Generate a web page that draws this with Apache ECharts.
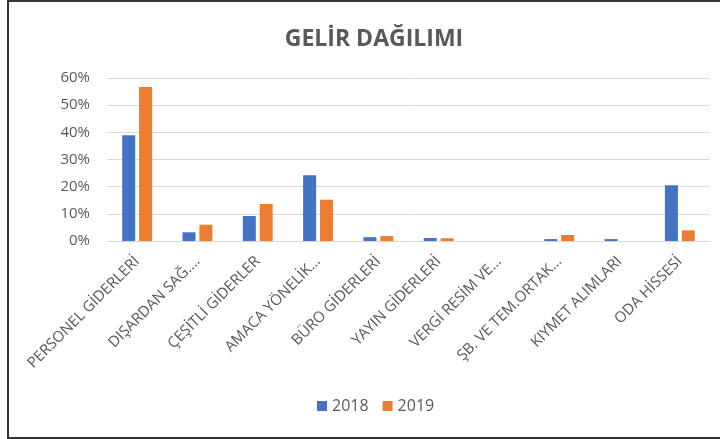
<!DOCTYPE html>
<html>
<head>
<meta charset="utf-8">
<script src="https://cdn.jsdelivr.net/npm/echarts@6/dist/echarts.min.js"></script>
<style>
  html, body { margin: 0; padding: 0; background: #fff; }
  #chart { position: absolute; left: 0; top: 0; width: 720px; height: 439px; }
  #frame { position: absolute; left: 7px; top: 0; width: 730px; height: 435px;
           border: 2px solid #333; pointer-events: none; }
</style>
</head>
<body>
<div id="chart"></div>
<div id="frame"></div>
<script>
// Gider kalemleri (kırpılmış etiketler Excel'deki gibi)
const categories = [
    'PERSONEL GİDERLERİ',
    'DIŞARDAN SAĞ.…',
    'ÇEŞİTLİ GİDERLER',
    'AMACA YÖNELİK…',
    'BÜRO GİDERLERİ',
    'YAYIN GİDERLERİ',
    'VERGİ RESİM VE…',
    'ŞB. VE TEM.ORTAK…',
    'KIYMET ALIMLARI',
    'ODA HİSSESİ'
];
const values2018 = [0.389, 0.032, 0.092, 0.242, 0.014, 0.011, 0.000, 0.007, 0.007, 0.205];
const values2019 = [0.567, 0.060, 0.136, 0.152, 0.018, 0.010, 0.000, 0.022, 0.000, 0.039];
const yTicks = { min: 0, max: 0.6, interval: 0.1 };

const textColor = '#595959';
const fontFamily = '"Open Sans", "Noto Sans", sans-serif';

const el = document.getElementById('chart');
const chart = echarts.init(el, null, { renderer: 'canvas' });

chart.setOption({
    backgroundColor: '#fff',
    animation: false,
    textStyle: { fontFamily: fontFamily, color: textColor },
    color: ['#4472C4', '#ED7D31'],
    title: {
        text: 'GELİR DAĞILIMI',
        left: 369,
        top: 23,
        textAlign: 'center',
        textStyle: { fontFamily: fontFamily, fontSize: 23, fontWeight: 'bold', color: textColor }
    },
    legend: {
        left: 312,
        bottom: 20,
        itemWidth: 10,
        itemHeight: 10,
        itemGap: 14,
        icon: 'rect',
        textStyle: { fontFamily: fontFamily, fontSize: 16, color: textColor },
        data: ['2018', '2019']
    },
    grid: { left: 107, right: 10, top: 78, bottom: 198 },
    xAxis: {
        type: 'category',
        data: categories,
        axisLine: { lineStyle: { color: '#D9D9D9', width: 1 } },
        axisTick: { show: false },
        axisLabel: {
            rotate: 45,
            interval: 0,
            margin: 18,
            fontFamily: fontFamily,
            fontSize: 15,
            color: textColor
        }
    },
    yAxis: {
        type: 'value',
        min: yTicks.min,
        max: yTicks.max,
        interval: yTicks.interval,
        axisLine: { show: false },
        axisTick: { show: false },
        splitLine: { lineStyle: { color: '#D9D9D9', width: 1 } },
        axisLabel: {
            margin: 17,
            fontFamily: fontFamily,
            fontSize: 15,
            color: textColor,
            formatter: v => Math.round(v * 100) + '%'
        }
    },
    series: [
        { name: '2018', type: 'bar', data: values2018, barWidth: 13, barGap: '30%' },
        { name: '2019', type: 'bar', data: values2019, barWidth: 13, barGap: '30%' }
    ]
});
window.addEventListener('resize', () => chart.resize());
</script>
</body>
</html>
